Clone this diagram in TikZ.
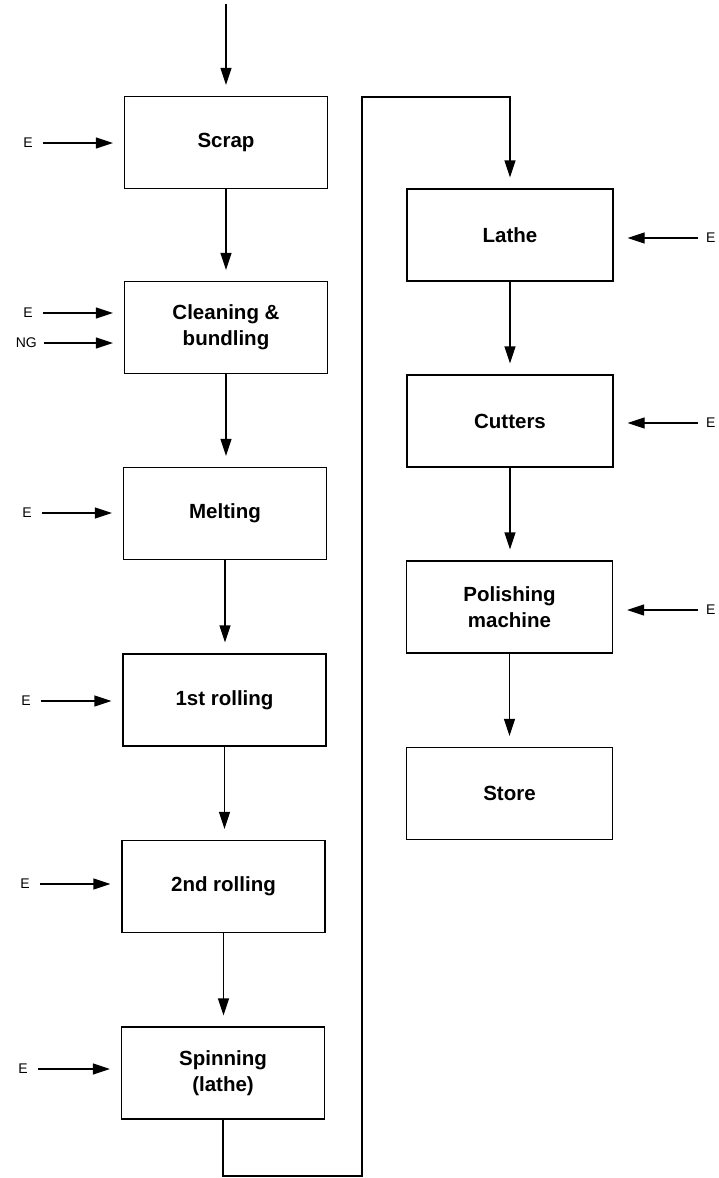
\documentclass[tikz,border=0pt]{standalone}
\usepackage{fontspec}
\setmainfont{Liberation Sans}
\usetikzlibrary{arrows.meta}
\begin{document}
\begin{tikzpicture}[x=1pt,y=-1pt,
  stage/.style={draw, line width=1.3pt, minimum width=203pt, minimum height=92pt,
    align=center, inner sep=0pt, font=\bfseries\fontsize{20.5}{26}\selectfont},
  flow/.style={line width=1.3pt, -{Triangle[length=17pt,width=11pt]}, shorten >=11pt},
  src/.style={inner sep=0pt, font=\fontsize{14}{16}\selectfont},
]
\useasboundingbox (0,0) rectangle (719,1178);

% left column of process stages
\node[stage] (scrap) at (226,142.5) {Scrap};
\node[stage] (clean) at (226,327.5) {Cleaning \&\\bundling};
\node[stage] (melt)  at (225,513.5) {Melting};
\node[stage] (roll1) at (224.5,700) {1st rolling};
\node[stage] (roll2) at (223.5,886.5) {2nd rolling};
\node[stage] (spin)  at (223,1073) {Spinning\\(lathe)};

% right column of process stages
\node[stage, minimum width=206pt] (lathe)  at (510,235) {Lathe};
\node[stage, minimum width=206pt] (cut)    at (510,421) {Cutters};
\node[stage, minimum width=206pt] (polish) at (509.5,607) {Polishing\\machine};
\node[stage, minimum width=206pt] (store)  at (509.5,793.5) {Store};

% main flow
\coordinate (feed) at (226,4);
\draw[flow] (feed) -- (feed |- scrap.north);
\draw[flow] (scrap.south) -- (scrap.south |- clean.north);
\draw[flow] (clean.south) -- (clean.south |- melt.north);
\draw[flow] (melt.south) -- (melt.south |- roll1.north);
\draw[flow] (roll1.south) -- (roll1.south |- roll2.north);
\draw[flow] (roll2.south) -- (roll2.south |- spin.north);

% transfer loop to the right column
\coordinate (lowturn) at (362,1176);
\coordinate (highturn) at (362,97);
\draw[flow] (spin.south) |- (lowturn) -- (highturn) -| (lathe.north);

\draw[flow] (lathe.south) -- (lathe.south |- cut.north);
\draw[flow] (cut.south) -- (cut.south |- polish.north);
\draw[flow] (polish.south) -- (polish.south |- store.north);

% energy and gas inputs, left
\node[src, anchor=east] (e1) at (33,143) {E};
\node[src, anchor=east] (e2) at (33,313) {E};
\node[src, anchor=east] (ng) at (37,343) {NG};
\node[src, anchor=east] (e3) at (32,513) {E};
\node[src, anchor=east] (e4) at (31,701) {E};
\node[src, anchor=east] (e5) at (30,884) {E};
\node[src, anchor=east] (e6) at (28,1069) {E};
\draw[flow] ([xshift=10pt]e1.east) -- (e1 -| scrap.west);
\draw[flow] ([xshift=10pt]e2.east) -- (e2 -| clean.west);
\draw[flow] ([xshift=7pt]ng.east) -- (ng -| clean.west);
\draw[flow] ([xshift=10pt]e3.east) -- (e3 -| melt.west);
\draw[flow] ([xshift=10pt]e4.east) -- (e4 -| roll1.west);
\draw[flow] ([xshift=10pt]e5.east) -- (e5 -| roll2.west);
\draw[flow] ([xshift=10pt]e6.east) -- (e6 -| spin.west);

% energy inputs, right
\node[src, anchor=west] (e7) at (706,238) {E};
\node[src, anchor=west] (e8) at (706,423) {E};
\node[src, anchor=west] (e9) at (706,610) {E};
\draw[flow, shorten >=14pt] ([xshift=-8pt]e7.west) -- (e7 -| lathe.east);
\draw[flow, shorten >=14pt] ([xshift=-8pt]e8.west) -- (e8 -| cut.east);
\draw[flow, shorten >=14pt] ([xshift=-8pt]e9.west) -- (e9 -| polish.east);
\end{tikzpicture}
\end{document}
